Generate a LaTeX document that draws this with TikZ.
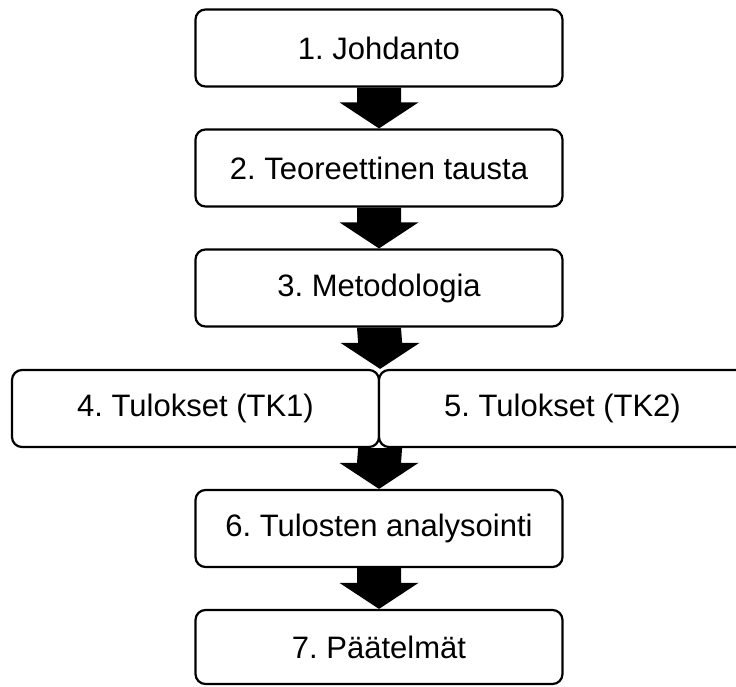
\documentclass[tikz,border=0pt]{standalone}
\usepackage{fontspec}
\setmainfont{Liberation Sans}
\usetikzlibrary{calc}
\frenchspacing

\tikzset{
  stepbox/.style={draw=black, fill=white, line width=2.2pt, rounded corners=10pt,
    minimum width=367pt, minimum height=77pt, inner sep=0pt,
    font=\fontsize{31}{37}\selectfont},
  flowarrow/.style={fill=black, draw=none}
}

% Thick block arrow from the bottom of one step to the top of the next
\newcommand{\blockarrow}[2]{%
  \fill[flowarrow] ($(#1)+(-22,0)$) -- ($(#2)+(-22,-26)$) -- ($(#2)+(-39.5,-26)$)
    -- (#2) -- ($(#2)+(39.5,-26)$) -- ($(#2)+(22,-26)$) -- ($(#1)+(22,0)$) -- cycle;}

\begin{document}
\begin{tikzpicture}[x=1pt, y=-1pt]
  \useasboundingbox (0,0) rectangle (736,686);

  \node[stepbox] (s1) at (379,48)    {1. Johdanto};
  \node[stepbox] (s2) at (379,168)   {2. Teoreettinen tausta};
  \node[stepbox] (s3) at (379,288)   {3. Metodologia};
  \node[stepbox] (s4) at (195.5,408.5) {4. Tulokset (TK1)};
  \node[stepbox] (s5) at (562.5,408.5) {5. Tulokset (TK2)};
  \node[stepbox] (s6) at (379,528.5) {6. Tulosten analysointi};
  \node[stepbox, minimum height=74pt] (s7) at (379,647) {7. Päätelmät};

  % junction points where the two result boxes meet
  \coordinate (jt) at (s4.north east);
  \coordinate (jb) at (s4.south east);

  \blockarrow{s1.south}{s2.north}
  \blockarrow{s2.south}{s3.north}
  \blockarrow{s3.south}{jt}
  \blockarrow{jb}{s6.north}
  \blockarrow{s6.south}{s7.north}
\end{tikzpicture}
\end{document}
